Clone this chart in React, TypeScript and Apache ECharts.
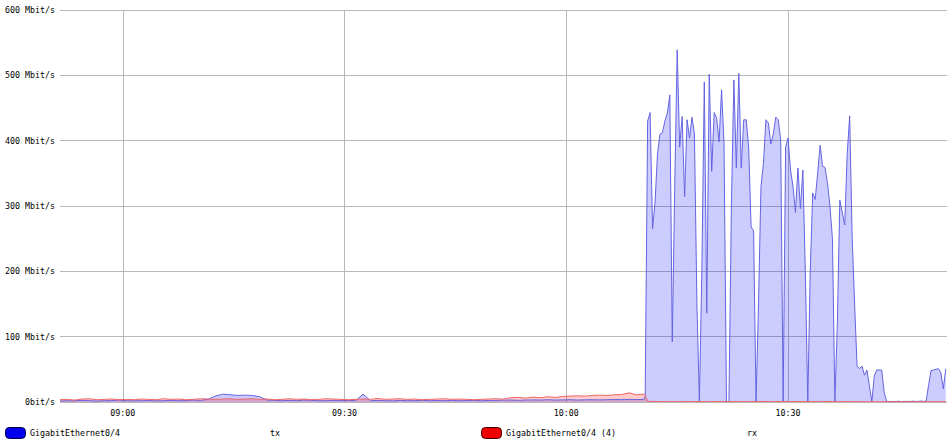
import React, { useEffect, useRef } from "react";
import * as echarts from "echarts";

// Time layout in minutes since midnight: quiet part sampled every 60 s, busy part every 20 s
const QUIET_START_MIN = 8 * 60 + 51.5;
const BUSY_START_MIN = 10 * 60 + 10 + 40 / 60;
const AXIS_END_MIN = 10 * 60 + 51.5;
const QUIET_STEP_MIN = 1;
const BUSY_STEP_MIN = 20 / 60;

const xTickMinutes = [540, 570, 600, 630];
const yTicks = [0, 100, 200, 300, 400, 500, 600];

// Mbit/s, GigabitEthernet0/4 tx (quiet part)
const quietTx = [
  1.5, 2, 1.8, 2.5, 2, 1.5, 2, 2.2, 3, 2,
  1.8, 2, 2.3, 1.8, 2, 2.5, 2, 2.2, 3, 2.5,
  4, 9, 12, 11, 10, 10.5, 10, 8, 3, 2.5,
  2, 2.5, 2, 3, 2.5, 2, 2, 2.5, 2, 2.5,
  2, 12, 2, 2.5, 2, 1.8, 2.5, 2, 2.2, 2.5,
  2, 2.3, 2, 2.5, 2, 2.2, 2.5, 2, 2.3, 2.5,
  2.8, 3, 2.5, 3, 3.2, 3, 3.5, 3, 3.2, 3.5,
  3, 3.3, 3.5, 3.2, 3.5, 3.8, 3.5, 4, 3.8, 4,
];

// Mbit/s, GigabitEthernet0/4 (4) rx (quiet part)
const quietRx = [
  3.5, 4, 3, 4.5, 5, 3.5, 4, 4.5, 3.5, 4,
  3.5, 4.5, 4, 3.5, 5, 4, 4.5, 3.5, 4, 5,
  4.5, 4, 4.5, 5, 4, 4.5, 5, 4, 4.5, 3.5,
  4, 5, 4, 4.5, 3.5, 4, 5, 4.5, 4, 3.5,
  4, 4.5, 4, 5.5, 4, 4.5, 5, 4, 4.5, 3.5,
  4, 4.5, 5, 4, 4.5, 4, 3.5, 4, 4.5, 5,
  4.5, 6.5, 7, 6, 7.5, 6.5, 8, 7, 8.5, 9,
  9.5, 9, 10, 10.5, 10, 11, 11.5, 14, 11, 12,
];

// Mbit/s, tx (busy part)
const busyTx = [
  8, 430, 443, 265, 305, 380, 410, 412, 430, 442,
  470, 92, 330, 539, 390, 437, 314, 432, 404, 436,
  410, 150, 1, 200, 490, 136, 502, 353, 443, 435,
  398, 478, 396, 0.5, 1, 300, 493, 358, 503, 358,
  432, 432, 390, 268, 262, 0.5, 150, 330, 365, 432,
  427, 395, 410, 436, 432, 401, 1, 390, 404, 355,
  330, 290, 358, 296, 355, 200, 0.5, 200, 320, 310,
  350, 393, 361, 359, 335, 300, 250, 0.5, 120, 309,
  290, 271, 380, 438, 253, 150, 55, 51, 55, 41,
  49, 25, 1, 40, 49, 49, 49, 15, 1, 0.8,
  1, 0.6, 0.9, 1.2, 0.7, 1, 0.8, 1.1, 0.9, 1.3,
  0.8, 1, 1.5, 0.9, 1.2, 25, 48, 49, 50, 51,
  45, 20, 51,
];

// Mbit/s, rx (busy part)
const busyRx = [
  10, 1.5, 0.8, 0.7, 0.9, 0.6, 0.8, 0.7, 0.9, 0.8,
  0.6, 0.7, 0.9, 0.8, 0.7, 0.6, 0.8, 0.9, 0.7, 0.8,
  0.6, 0.7, 0.5, 0.6, 0.8, 0.7, 0.9, 0.8, 0.7, 0.8,
  0.6, 0.8, 0.7, 0.5, 0.6, 0.7, 0.9, 0.8, 0.8, 0.7,
  0.8, 0.9, 0.7, 0.6, 0.7, 0.5, 0.6, 0.7, 0.8, 0.9,
  0.8, 0.7, 0.8, 0.9, 0.8, 0.7, 0.5, 0.7, 0.8, 0.7,
  0.6, 0.7, 0.8, 0.7, 0.8, 0.6, 0.5, 0.6, 0.7, 0.7,
  0.8, 0.9, 0.8, 0.8, 0.7, 0.7, 0.6, 0.5, 0.6, 0.7,
  0.7, 0.6, 0.8, 0.9, 0.7, 0.6, 0.5, 0.5, 0.6, 0.5,
  0.5, 0.5, 0.4, 0.5, 0.5, 0.5, 0.5, 0.4, 0.4, 0.4,
  0.4, 0.4, 0.4, 0.4, 0.4, 0.4, 0.4, 0.4, 0.4, 0.4,
  0.4, 0.4, 0.4, 0.4, 0.4, 0.5, 0.6, 0.6, 0.6, 0.6,
  0.6, 0.5, 0.6,
];

const legendItems = [
  { name: "GigabitEthernet0/4", dir: "tx", fill: "#0000ee", stroke: "#000044" },
  { name: "GigabitEthernet0/4 (4)", dir: "rx", fill: "#ee0000", stroke: "#440000" },
];

const FONT = "'DejaVu Sans Mono', monospace";

function pad(n: number) {
  return n < 10 ? "0" + n : "" + n;
}

export default function App() {
  const ref = useRef<HTMLDivElement>(null);

  useEffect(() => {
    if (!ref.current) return;
    const chart = echarts.init(ref.current, null, { renderer: "svg" });
    const build = (quiet: number[], busy: number[]) =>
      quiet
        .map((v, i) => [QUIET_START_MIN + i * QUIET_STEP_MIN, v])
        .concat(busy.map((v, j) => [BUSY_START_MIN + j * BUSY_STEP_MIN, v]));

    const graphics: any[] = [];
    const legendX = [5, 481];
    const dirX = [270, 747];
    legendItems.forEach((it, k) => {
      graphics.push({
        type: "rect",
        shape: { x: legendX[k] + 0.5, y: 427.5, width: 20, height: 11, r: 4 },
        style: { fill: it.fill, stroke: it.stroke, lineWidth: 1 },
      });
      graphics.push({
        type: "text",
        x: legendX[k] + 25,
        y: 433,
        style: {
          text: it.name,
          font: `8.3px ${FONT}`,
          fill: "#000",
          verticalAlign: "middle",
          align: "left",
        },
      });
      graphics.push({
        type: "text",
        x: dirX[k],
        y: 433,
        style: {
          text: it.dir,
          font: `8.3px ${FONT}`,
          fill: "#000",
          verticalAlign: "middle",
          align: "left",
        },
      });
    });

    chart.setOption({
      animation: false,
      backgroundColor: "#ffffff",
      grid: { left: 60, right: 5, top: 10, bottom: 40, containLabel: false },
      xAxis: {
        type: "value",
        min: QUIET_START_MIN,
        max: AXIS_END_MIN,
        axisLine: { show: false },
        axisTick: { show: false, customValues: xTickMinutes },
        splitLine: { show: true, lineStyle: { color: "#b8b8b8", width: 1 } },
        axisLabel: {
          customValues: xTickMinutes,
          margin: 7,
          color: "#000",
          fontFamily: FONT,
          fontSize: 8.3,
          formatter: (v: number) => pad(Math.floor(v / 60)) + ":" + pad(Math.round(v % 60)),
        },
      },
      yAxis: {
        type: "value",
        min: yTicks[0],
        max: yTicks[yTicks.length - 1],
        interval: 100,
        axisLine: { show: false },
        axisTick: { show: false },
        splitLine: { show: true, lineStyle: { color: "#b8b8b8", width: 1 } },
        axisLabel: {
          margin: 5,
          color: "#000",
          fontFamily: FONT,
          fontSize: 8.3,
          formatter: (v: number) => (v === 0 ? "0bit/s" : v + " Mbit/s"),
        },
      },
      series: [
        {
          name: "tx",
          type: "line",
          data: build(quietTx, busyTx),
          showSymbol: false,
          symbol: "none",
          lineStyle: { color: "#6464e0", width: 1 },
          areaStyle: { color: "rgba(0,0,255,0.2)", opacity: 1 },
        },
        {
          name: "rx",
          type: "line",
          data: build(quietRx, busyRx),
          showSymbol: false,
          symbol: "none",
          lineStyle: { color: "#ee6666", width: 1 },
          areaStyle: { color: "rgba(255,0,0,0.2)", opacity: 1 },
        },
      ],
      graphic: graphics,
    });
    return () => chart.dispose();
  }, []);

  return <div ref={ref} style={{ width: 952, height: 442, position: "absolute", left: 0, top: 0 }} />;
}
